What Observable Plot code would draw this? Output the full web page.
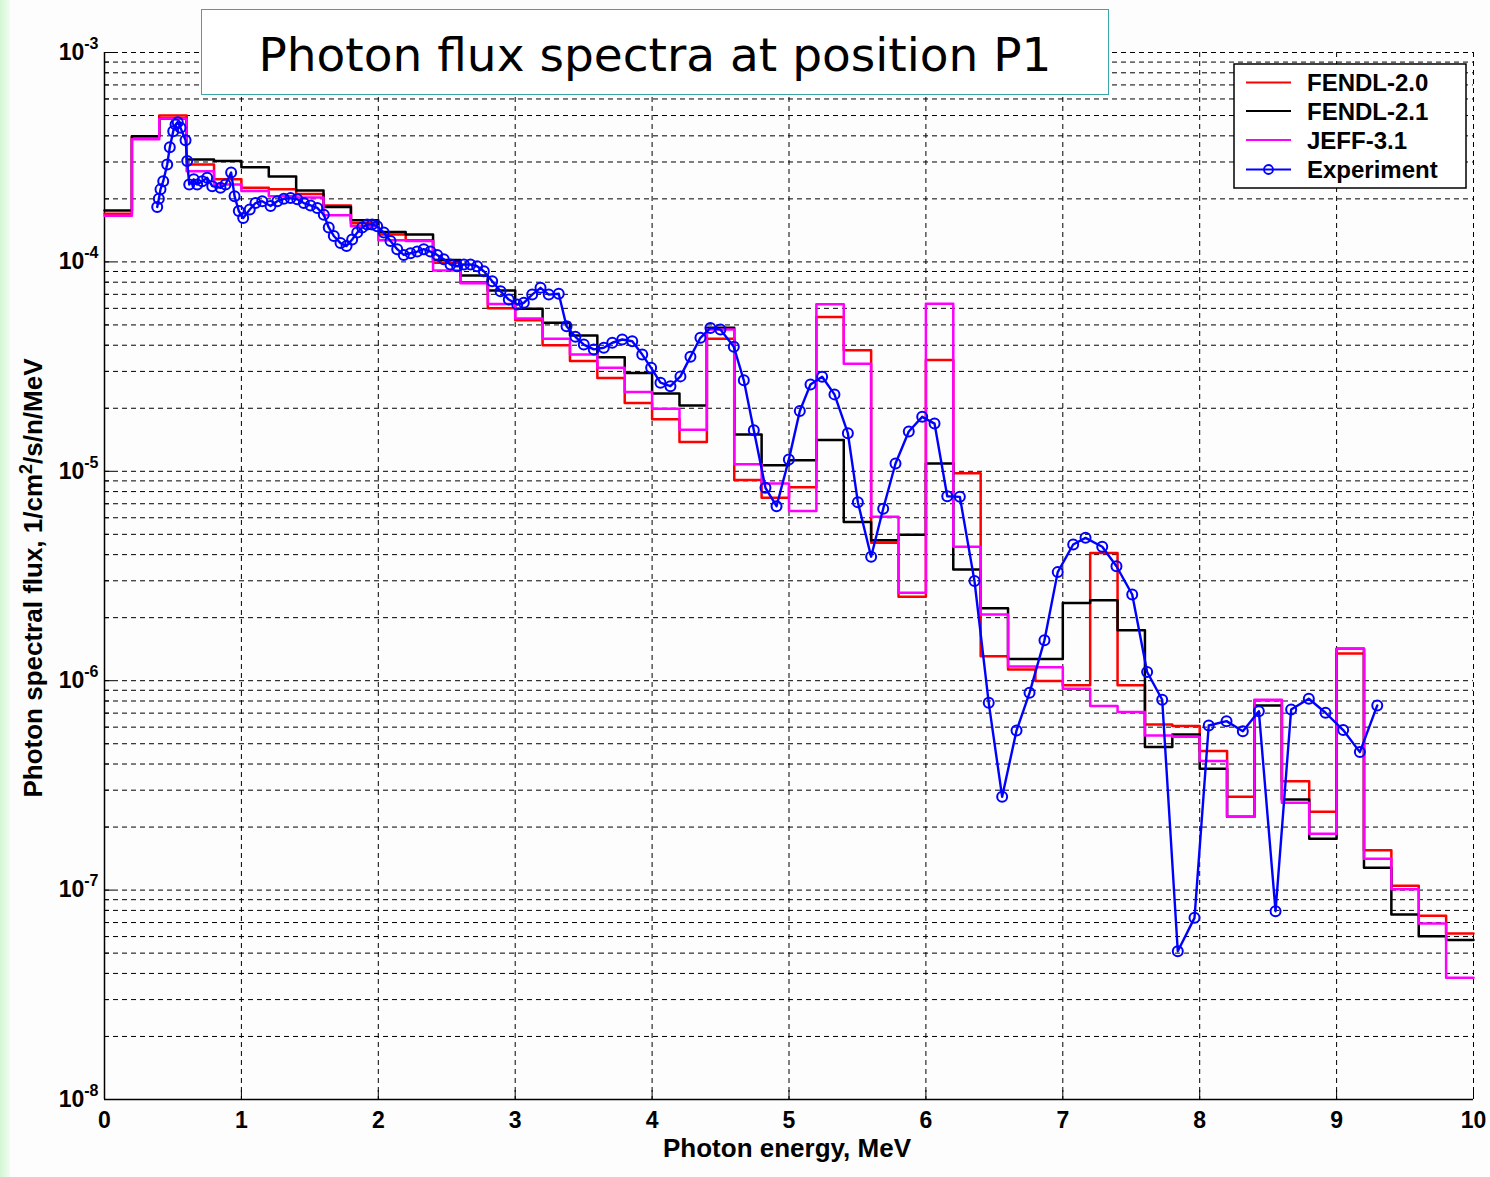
<!DOCTYPE html>
<html><head><meta charset="utf-8">
<script src="https://cdn.jsdelivr.net/npm/d3@7"></script>
<script src="https://cdn.jsdelivr.net/npm/@observablehq/plot@0.6"></script>
<style>
body{margin:0;background:#fff;}
#wrap{position:relative;width:1490px;height:1177px;background:#fdfdfd;overflow:hidden;font-family:"Liberation Sans",Arial,sans-serif;}
#strip{position:absolute;left:0;top:0;width:10px;height:1177px;background:linear-gradient(to right,#d2f6d2,#f2fcf2);}
#chart{position:absolute;left:0;top:0;}
#title{position:absolute;left:201px;top:9px;width:908px;height:86px;border:1.5px solid #3aa6a6;background:#fff;box-sizing:border-box;display:flex;align-items:center;justify-content:center;font-family:"DejaVu Sans",sans-serif;font-size:47px;color:#000;padding-top:5px;}
</style></head>
<body><div id="wrap"><div id="strip"></div><div id="chart"></div><div id="title">Photon flux spectra at position P1</div></div>
<script>
// ---- data ----
const binStart = [0,0.2,0.4,0.6,0.8,1.0,1.2,1.4,1.6,1.8,2.0,2.2,2.4,2.6,2.8,3.0,3.2,3.4,3.6,3.8,4.0,4.2,4.4,4.6,4.8,5.0,5.2,5.4,5.6,5.8,6.0,6.2,6.4,6.6,6.8,7.0,7.2,7.4,7.6,7.8,8.0,8.2,8.4,8.6,8.8,9.0,9.2,9.4,9.6,9.8];
const lastEdge = 10;
const fendl20 = [1.70e-4,3.98e-4,5.0e-4,2.92e-4,2.48e-4,2.26e-4,2.22e-4,2.11e-4,1.86e-4,1.53e-4,1.35e-4,1.27e-4,9.9e-5,8.0e-5,6.0e-5,5.27e-5,4.0e-5,3.36e-5,2.79e-5,2.12e-5,1.77e-5,1.38e-5,4.29e-5,9.1e-6,7.47e-6,8.4e-6,5.45e-5,3.79e-5,4.56e-6,2.52e-6,3.4e-5,9.8e-6,1.31e-6,1.13e-6,9.96e-7,9.5e-7,4.07e-6,9.5e-7,6.17e-7,6.07e-7,4.61e-7,2.79e-7,8.07e-7,3.31e-7,2.37e-7,1.35e-6,1.55e-7,1.05e-7,7.55e-8,6.21e-8];
const fendl21 = [1.76e-4,3.98e-4,4.84e-4,3.08e-4,3.03e-4,2.83e-4,2.56e-4,2.19e-4,1.83e-4,1.58e-4,1.39e-4,1.35e-4,1.02e-4,8.6e-5,7.3e-5,5.97e-5,5.12e-5,4.45e-5,3.5e-5,2.95e-5,2.35e-5,2.06e-5,4.85e-5,1.5e-5,1.07e-5,1.13e-5,1.41e-5,5.72e-6,4.68e-6,4.98e-6,1.09e-5,3.4e-6,2.22e-6,1.27e-6,1.27e-6,2.35e-6,2.42e-6,1.74e-6,4.82e-7,5.53e-7,3.8e-7,2.24e-7,7.62e-7,2.71e-7,1.76e-7,1.42e-6,1.28e-7,7.65e-8,6.02e-8,5.77e-8];
const jeff31 = [1.66e-4,3.85e-4,4.84e-4,2.71e-4,2.34e-4,2.18e-4,2.06e-4,2.03e-4,1.67e-4,1.48e-4,1.27e-4,1.26e-4,9.1e-5,7.9e-5,6.3e-5,5.37e-5,4.3e-5,3.61e-5,3.12e-5,2.39e-5,1.99e-5,1.58e-5,4.75e-5,1.08e-5,8.74e-6,6.46e-6,6.27e-5,3.26e-5,6.07e-6,2.63e-6,6.32e-5,4.36e-6,2.07e-6,1.17e-6,1.16e-6,9.15e-7,7.57e-7,7.08e-7,5.47e-7,5.4e-7,4.13e-7,2.24e-7,8.1e-7,2.61e-7,1.86e-7,1.42e-6,1.41e-7,1.01e-7,6.92e-8,3.81e-8];
const expEnergy = [0.385,0.397,0.409,0.429,0.458,0.477,0.502,0.519,0.535,0.555,0.592,0.604,0.619,0.652,0.677,0.714,0.750,0.787,0.847,0.884,0.925,0.950,0.981,1.013,1.061,1.103,1.152,1.213,1.262,1.310,1.359,1.408,1.456,1.505,1.554,1.602,1.638,1.675,1.724,1.768,1.809,1.846,1.882,1.919,1.955,1.992,2.040,2.089,2.138,2.186,2.235,2.284,2.332,2.381,2.430,2.478,2.527,2.576,2.625,2.673,2.722,2.771,2.832,2.893,2.953,3.015,3.063,3.124,3.185,3.245,3.318,3.375,3.440,3.501,3.574,3.647,3.709,3.782,3.855,3.928,3.993,4.061,4.134,4.207,4.280,4.353,4.426,4.499,4.597,4.670,4.743,4.828,4.909,4.999,5.079,5.157,5.242,5.332,5.430,5.503,5.600,5.688,5.778,5.875,5.973,6.063,6.156,6.248,6.355,6.459,6.557,6.662,6.757,6.866,6.963,7.076,7.166,7.288,7.392,7.507,7.616,7.726,7.840,7.962,8.066,8.196,8.315,8.432,8.554,8.668,8.797,8.919,9.048,9.170,9.297];
const expFlux = [1.83e-4,2.00e-4,2.22e-4,2.43e-4,2.92e-4,3.53e-4,4.21e-4,4.53e-4,4.65e-4,4.37e-4,3.81e-4,3.03e-4,2.34e-4,2.48e-4,2.34e-4,2.43e-4,2.52e-4,2.30e-4,2.26e-4,2.34e-4,2.67e-4,2.06e-4,1.75e-4,1.62e-4,1.78e-4,1.91e-4,1.95e-4,1.85e-4,1.95e-4,2.00e-4,2.02e-4,1.99e-4,1.91e-4,1.86e-4,1.81e-4,1.68e-4,1.46e-4,1.33e-4,1.23e-4,1.19e-4,1.28e-4,1.38e-4,1.46e-4,1.51e-4,1.51e-4,1.48e-4,1.38e-4,1.26e-4,1.15e-4,1.08e-4,1.10e-4,1.12e-4,1.15e-4,1.12e-4,1.08e-4,1.03e-4,9.72e-5,9.53e-5,9.72e-5,9.72e-5,9.53e-5,9.03e-5,8.09e-5,7.24e-5,6.61e-5,6.26e-5,6.38e-5,6.98e-5,7.52e-5,6.98e-5,7.05e-5,4.93e-5,4.39e-5,4.03e-5,3.82e-5,3.89e-5,4.11e-5,4.26e-5,4.18e-5,3.61e-5,3.12e-5,2.65e-5,2.55e-5,2.84e-5,3.52e-5,4.34e-5,4.84e-5,4.75e-5,3.93e-5,2.72e-5,1.57e-5,8.34e-6,6.81e-6,1.14e-5,1.94e-5,2.60e-5,2.83e-5,2.33e-5,1.52e-5,7.12e-6,3.91e-6,6.62e-6,1.09e-5,1.55e-5,1.82e-5,1.69e-5,7.6e-6,7.55e-6,2.99e-6,7.84e-7,2.79e-7,5.78e-7,8.75e-7,1.56e-6,3.30e-6,4.47e-6,4.81e-6,4.36e-6,3.52e-6,2.58e-6,1.10e-6,8.11e-7,5.1e-8,7.37e-8,6.11e-7,6.41e-7,5.74e-7,7.15e-7,7.93e-8,7.28e-7,8.2e-7,7.03e-7,5.81e-7,4.56e-7,7.62e-7];
const xTicks = [0,1,2,3,4,5,6,7,8,9,10];
const yMajor = [1e-8,1e-7,1e-6,1e-5,1e-4,1e-3];
const yMinor = [2e-8,3e-8,4e-8,5e-8,6e-8,7e-8,8e-8,9e-8,2e-7,3e-7,4e-7,5e-7,6e-7,7e-7,8e-7,9e-7,2e-6,3e-6,4e-6,5e-6,6e-6,7e-6,8e-6,9e-6,2e-5,3e-5,4e-5,5e-5,6e-5,7e-5,8e-5,9e-5,2e-4,3e-4,4e-4,5e-4,6e-4,7e-4,8e-4,9e-4];
const seriesNames = ["FENDL-2.0","FENDL-2.1","JEFF-3.1","Experiment"];
const seriesColors = ["#ff0000","#000000","#ff00ff","#0000ff"];
const xLabel = "Photon energy, MeV";

// ---- build ----
const steps = vals => binStart.map((e,i)=>({x:e,y:vals[i]})).concat([{x:lastEdge,y:vals[vals.length-1]}]);
const exp = expEnergy.map((e,i)=>({x:e,y:expFlux[i]})).filter(d=>d.y!=null);
const gridY = yMajor.concat(yMinor).filter(v=>v>1e-8);
const gridX = xTicks.filter(v=>v>0);
const dash = "5,4";
const FONT = "Liberation Sans, Arial, sans-serif";

const chart = Plot.plot({
  width:1490, height:1177,
  marginLeft:104, marginRight:17, marginTop:52, marginBottom:78,
  style:{background:"transparent", fontFamily:FONT, fontSize:"23px", fontWeight:"bold", color:"#000"},
  x:{domain:[0,10]},
  y:{type:"log", domain:[1e-8,1e-3]},
  marks:[
    Plot.ruleY(gridY, {stroke:"#000", strokeWidth:1, strokeDasharray:dash}),
    Plot.ruleX(gridX, {stroke:"#000", strokeWidth:1, strokeDasharray:dash}),
    Plot.axisX({ticks:xTicks, tickSize:-9, tickPadding:21, tickFormat:d=>String(d), label:null, stroke:"#000", fontSize:23, fontWeight:"bold", fontFamily:FONT}),
    Plot.axisY({ticks:yMajor, tickSize:-9, tickPadding:15, tickFormat:d=>"10^"+Math.round(Math.log10(d)), label:null, stroke:"#000", fontSize:23, fontWeight:"bold", fontFamily:FONT}),
    Plot.axisY({ticks:yMinor, tickSize:-5, tickPadding:0, tickFormat:()=>"", label:null, stroke:"#000"}),
    Plot.ruleX([0], {stroke:"#000", strokeWidth:1.5}),
    Plot.ruleY([1e-8], {stroke:"#000", strokeWidth:1.5}),
    Plot.line(steps(fendl20), {x:"x", y:"y", curve:"step-after", stroke:seriesColors[0], strokeWidth:2.5}),
    Plot.line(steps(fendl21), {x:"x", y:"y", curve:"step-after", stroke:seriesColors[1], strokeWidth:2.5}),
    Plot.line(steps(jeff31), {x:"x", y:"y", curve:"step-after", stroke:seriesColors[2], strokeWidth:2.5}),
    Plot.line(exp, {x:"x", y:"y", stroke:seriesColors[3], strokeWidth:2.4}),
    Plot.dot(exp, {x:"x", y:"y", r:5, stroke:seriesColors[3], strokeWidth:2, fill:"none"})
  ]
});
document.getElementById("chart").appendChild(chart);

const svg = d3.select(chart);
// superscript y tick labels
svg.selectAll('[aria-label="y-axis tick label"] text').each(function(){
  const t = d3.select(this);
  const s = t.text();
  if (!s || s.indexOf("^")<0) return;
  const exp10 = s.split("^")[1];
  t.text("10");
  t.append("tspan").attr("dy","-11").attr("font-size","16px").text(exp10);
});
// axis labels
svg.append("text").attr("x",787).attr("y",1157).attr("text-anchor","middle")
  .attr("font-family",FONT).attr("font-size","26px").attr("font-weight","bold").attr("fill","#000").text(xLabel);
const yl = svg.append("text").attr("transform","translate(42,578) rotate(-90)").attr("text-anchor","middle")
  .attr("font-family",FONT).attr("font-size","26px").attr("font-weight","bold").attr("fill","#000");
yl.append("tspan").text("Photon spectral flux, 1/cm");
yl.append("tspan").attr("dy","-10").attr("font-size","18px").text("2");
yl.append("tspan").attr("dy","10").text("/s/n/MeV");
// legend
const lg = svg.append("g");
lg.append("rect").attr("x",1234).attr("y",64).attr("width",232).attr("height",124)
  .attr("fill","#fff").attr("stroke","#000").attr("stroke-width",1.5);
const rowY = [82.5,111,140,169.5];
seriesNames.forEach((n,i)=>{
  lg.append("line").attr("x1",1246).attr("x2",1291).attr("y1",rowY[i]).attr("y2",rowY[i])
    .attr("stroke",seriesColors[i]).attr("stroke-width",2);
  if (i===3) lg.append("circle").attr("cx",1268.5).attr("cy",rowY[i]).attr("r",4.5)
    .attr("fill","none").attr("stroke",seriesColors[i]).attr("stroke-width",1.8);
  lg.append("text").attr("x",1307).attr("y",rowY[i]).attr("dy","0.36em").attr("text-anchor","start")
    .attr("font-family",FONT).attr("font-size","24px").attr("font-weight","bold").attr("fill","#000").text(n);
});
</script></body></html>
